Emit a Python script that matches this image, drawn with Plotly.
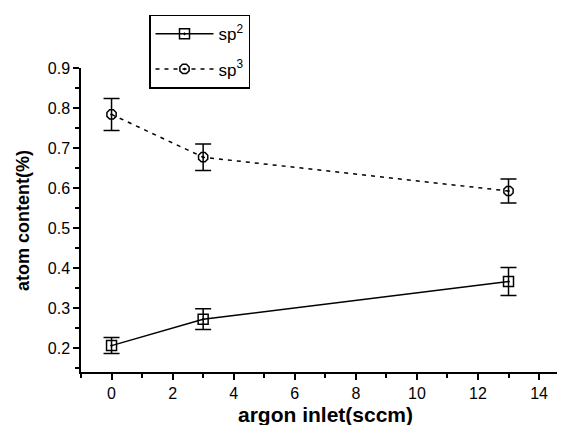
import plotly.graph_objects as go

x_vals = [0, 3, 13]
sp2_vals = [0.206, 0.272, 0.366]
sp2_err = [0.02, 0.026, 0.035]
sp3_vals = [0.784, 0.677, 0.5925]
sp3_err = [0.04, 0.033, 0.03]

FONT = "Liberation Sans, Arial, sans-serif"

fig = go.Figure()
fig.add_trace(go.Scatter(
    x=x_vals, y=sp2_vals, name="sp<sup>2</sup>", mode="lines+markers",
    line=dict(color="black", width=1.5),
    marker=dict(symbol="square-open-dot", size=10, color="black", line=dict(width=1.5)),
    error_y=dict(type="data", array=sp2_err, visible=True, color="black", thickness=1.5, width=8),
    legendgroup="a",
))
fig.add_trace(go.Scatter(
    x=x_vals, y=sp3_vals, name="sp<sup>3</sup>", mode="lines+markers",
    line=dict(color="black", width=1.5, dash="4px,5px"),
    marker=dict(symbol="octagon-open-dot", size=10, color="black", line=dict(width=1.5)),
    error_y=dict(type="data", array=sp3_err, visible=True, color="black", thickness=1.5, width=8),
    legendgroup="b",
))

# page body has an 8px default margin, so the figure is sized 8px smaller
fig.update_layout(
    width=557, height=417,
    margin=dict(l=73, r=0, t=60, b=53, autoexpand=False),
    paper_bgcolor="white", plot_bgcolor="white",
    font=dict(family=FONT, color="black", size=15),
    showlegend=True,
    legend=dict(
        x=0.1405, y=1.175, xanchor="left", yanchor="top",
        bordercolor="black", borderwidth=1.5, bgcolor="white",
        font=dict(size=17), traceorder="grouped", tracegroupgap=10,
        itemwidth=58,
    ),
    xaxis=dict(
        range=[-1, 14.85], showgrid=False, zeroline=False, automargin=False,
        showline=True, linecolor="black", linewidth=1.5,
        tickmode="array", tickvals=[0, 2, 4, 6, 8, 10, 12, 14],
        ticks="outside", ticklen=6, tickwidth=1.5, tickcolor="black",
        minor=dict(tickvals=[-1, 1, 3, 5, 7, 9, 11, 13], ticks="outside", ticklen=4, tickwidth=1.5, tickcolor="black"),
        tickfont=dict(size=16),
    ),
    yaxis=dict(
        range=[0.14, 0.9], showgrid=False, zeroline=False, automargin=False,
        showline=True, linecolor="black", linewidth=1.5,
        tickmode="array", tickvals=[0.2, 0.3, 0.4, 0.5, 0.6, 0.7, 0.8, 0.9],
        ticktext=["0.2", "0.3", "0.4", "0.5", "0.6", "0.7", "0.8", "0.9"],
        ticks="outside", ticklen=6, tickwidth=1.5, tickcolor="black",
        minor=dict(tickvals=[0.15, 0.25, 0.35, 0.45, 0.55, 0.65, 0.75, 0.85], ticks="outside", ticklen=4, tickwidth=1.5, tickcolor="black"),
        tickfont=dict(size=16),
    ),
    annotations=[
        dict(text="<b>argon inlet(sccm)</b>", xref="paper", yref="paper",
             x=0.506, y=-0.141, xanchor="center", yanchor="middle",
             showarrow=False, font=dict(size=21)),
        dict(text="<b>atom content(%)</b>", xref="paper", yref="paper",
             x=-0.12, y=0.5, xanchor="center", yanchor="middle", textangle=-90,
             showarrow=False, font=dict(size=18)),
    ],
)

fig.write_html("out.html")
